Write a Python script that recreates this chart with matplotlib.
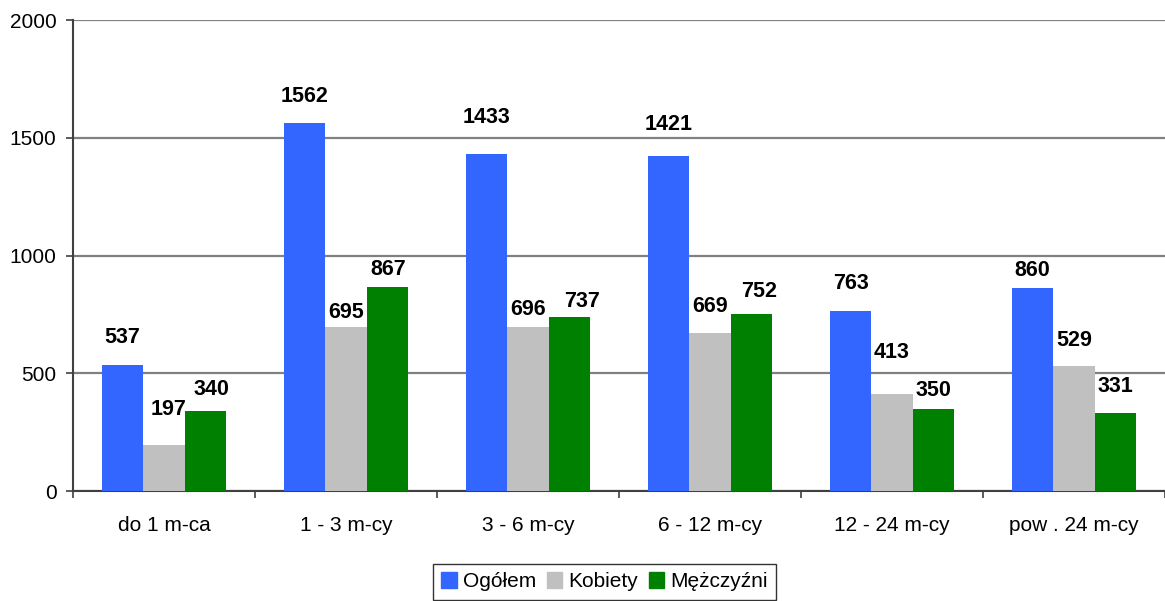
import numpy as np
import matplotlib.pyplot as plt
from matplotlib.patches import Rectangle

plt.rcParams['font.family'] = ['Liberation Sans', 'DejaVu Sans']

categories = ["do 1 m-ca", "1 - 3 m-cy", "3 - 6 m-cy", "6 - 12 m-cy", "12 - 24 m-cy", "pow . 24 m-cy"]
ogolem = [537, 1562, 1433, 1421, 763, 860]
kobiety = [197, 695, 696, 669, 413, 529]
mezczyzni = [340, 867, 737, 752, 350, 331]
series_names = ["Ogółem", "Kobiety", "Mężczyźni"]
colors = ["#3366FF", "#C0C0C0", "#008000"]

# label offsets in pixels (dx, dy) above bar tops, as placed in the original
label_dx = [[0, 0, 0, 0, 0, 0],
            [5, 0, 0, 0, 0, 0],
            [6, 1, 13, 8, 0, 0]]
label_dy = [[27, 27, 36, 32, 28, 18],
            [35, 15, 18, 27, 41, 26],
            [21, 17, 16, 22, 18, 27]]

fig = plt.figure(figsize=(11.65, 6.01), dpi=100)
ax = fig.add_axes([0.0627, 0.183, 0.9373, 0.7837])

x = np.arange(len(categories))
w = 0.228
all_series = [ogolem, kobiety, mezczyzni]
for i, vals in enumerate(all_series):
    pos = x + (i - 1) * w
    ax.bar(pos, vals, width=w, color=colors[i], zorder=3)
    for j, v in enumerate(vals):
        ax.annotate(str(v), (pos[j], v), xytext=(label_dx[i][j], label_dy[i][j]),
                    textcoords='offset pixels', ha='center', va='center',
                    fontsize=15.5, fontweight='bold', zorder=4)

ax.set_xlim(-0.5, 5.5)
ax.set_ylim(0, 2000)
ax.set_yticks([0, 500, 1000, 1500, 2000])
ax.yaxis.grid(True, color='#808080', linewidth=1.6, zorder=0)
ax.tick_params(axis='y', labelsize=15, length=5, width=1.2, color='#404040', pad=7)

ax.set_xticks(np.arange(-0.5, 6, 1))
ax.set_xticklabels([])
ax.tick_params(axis='x', which='major', length=5, width=1.2, color='#404040')
ax.set_xticks(x, minor=True)
ax.set_xticklabels(categories, minor=True)
ax.tick_params(axis='x', which='minor', length=0, labelsize=15, pad=18)

for s in ['top', 'right']:
    ax.spines[s].set_visible(False)
for s in ['left', 'bottom']:
    ax.spines[s].set_color('#404040')
    ax.spines[s].set_linewidth(1.5)

handles = [Rectangle((0, 0), 1, 1, color=c) for c in colors]
leg = fig.legend(handles, series_names, loc='lower center', bbox_to_anchor=(0.519, -0.015),
                 ncol=3, fontsize=15, frameon=True, fancybox=False, edgecolor='black',
                 handlelength=0.75, handleheight=0.75, handletextpad=0.3, columnspacing=0.5,
                 borderpad=0.4)
leg.get_frame().set_linewidth(1.0)

fig.savefig("out.png", dpi=100)
